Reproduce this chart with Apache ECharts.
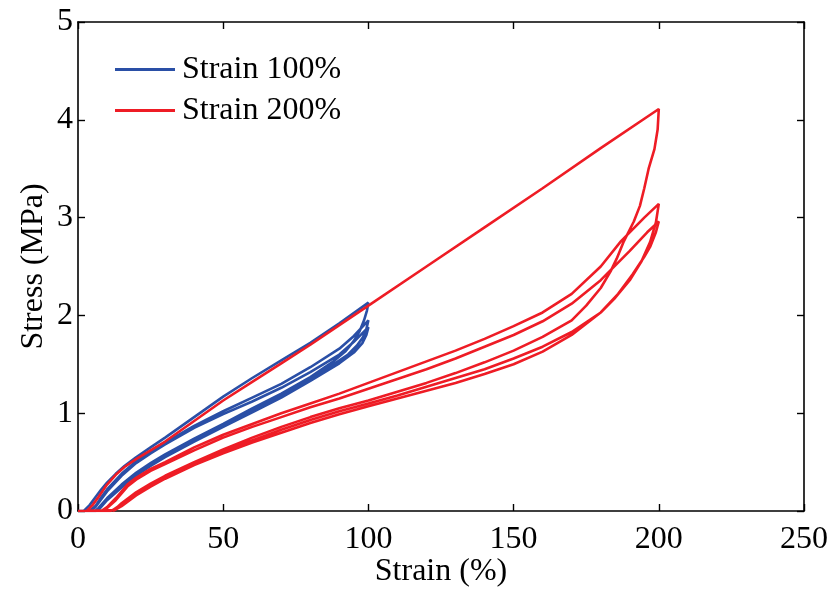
<!DOCTYPE html>
<html>
<head>
<meta charset="utf-8">
<script src="https://cdn.jsdelivr.net/npm/echarts@6/dist/echarts.min.js"></script>
<style>
  html, body { margin: 0; padding: 0; background: #fff; }
  #chart { width: 832px; height: 589px; }
</style>
</head>
<body>
<div id="chart"></div>
<script>
// Cyclic tensile test: stress (MPa) against strain (%), [strain, stress] pairs.
// 100% strain: three load/unload cycles
const blueLoad1 = [[0,0],[2,0],[4,0.06],[6,0.14],[8,0.22],[10,0.29],[13,0.38],[16,0.46],[20,0.55],[25,0.65],[30,0.75],[40,0.96],[50,1.17],[60,1.36],[70,1.54],[80,1.72],[90,1.92],[100,2.13]];
const blueUnload1 = [[100,2.13],[99.5,2.05],[98.5,1.95],[97,1.84],[95,1.74],[92,1.63],[88,1.53],[80,1.37],[70,1.2],[60,1.05],[50,0.89],[40,0.74],[30,0.58],[25,0.49],[20,0.39],[15,0.27],[10,0.13],[7,0.03],[6,0],[0,0]];
const blueLoad2 = [[0,0],[4,0],[6,0.05],[8,0.14],[10,0.22],[15,0.38],[20,0.51],[25,0.61],[30,0.7],[40,0.87],[50,1.02],[60,1.16],[70,1.3],[80,1.47],[90,1.66],[95,1.79],[100,1.95]];
const blueUnload2 = [[100,1.95],[99.3,1.86],[98,1.77],[96,1.69],[93,1.6],[88,1.5],[80,1.35],[70,1.18],[60,1.03],[50,0.87],[40,0.72],[30,0.56],[25,0.47],[20,0.37],[15,0.25],[10,0.12],[7,0.02],[6,0]];
const blueLoad3 = [[4,0],[6,0.04],[8,0.12],[10,0.2],[15,0.36],[20,0.49],[25,0.59],[30,0.68],[40,0.85],[50,0.99],[60,1.12],[70,1.26],[80,1.42],[90,1.6],[95,1.73],[100,1.88]];
const blueUnload3 = [[100,1.88],[99.3,1.8],[98,1.72],[95,1.62],[90,1.51],[80,1.33],[70,1.16],[60,1.01],[50,0.86],[40,0.71],[30,0.55],[25,0.46],[20,0.36],[15,0.24],[10,0.11],[7,0.01],[6,0]];

// 200% strain: three load/unload cycles
const redLoad1 = [[0,0],[3,0],[5,0.06],[7,0.14],[10,0.27],[13,0.37],[16,0.45],[20,0.53],[25,0.62],[30,0.71],[40,0.92],[50,1.13],[60,1.32],[70,1.51],[80,1.7],[90,1.9],[100,2.1],[120,2.5],[140,2.9],[160,3.3],[180,3.71],[200,4.11]];
const redUnload1 = [[200,4.11],[199.6,3.9],[198.5,3.7],[196.5,3.5],[195,3.3],[193.5,3.12],[191.4,2.96],[188,2.76],[185.5,2.58],[183.4,2.45],[180,2.28],[175,2.1],[170,1.95],[160,1.78],[150,1.64],[140,1.52],[130,1.41],[120,1.31],[110,1.22],[100,1.13],[90,1.05],[80,0.96],[70,0.86],[60,0.75],[50,0.63],[40,0.5],[30,0.36],[25,0.28],[20,0.19],[15,0.08],[12.5,0.01],[12,0],[0,0]];
const redLoad2 = [[0,0],[8,0],[10,0.04],[13,0.13],[17,0.27],[20,0.34],[25,0.43],[30,0.5],[40,0.65],[50,0.78],[60,0.89],[70,1.0],[80,1.1],[90,1.2],[100,1.31],[110,1.42],[120,1.53],[130,1.64],[140,1.76],[150,1.89],[160,2.03],[170,2.22],[180,2.5],[187,2.76],[195,3.0],[200,3.14]];
const redUnload2 = [[200,3.14],[199,2.95],[197,2.75],[194,2.55],[190,2.36],[185,2.18],[180,2.03],[170,1.83],[160,1.68],[150,1.56],[140,1.45],[130,1.36],[120,1.27],[110,1.18],[100,1.1],[90,1.02],[80,0.93],[70,0.83],[60,0.72],[50,0.61],[40,0.49],[30,0.35],[25,0.27],[20,0.18],[15,0.07],[12,0.01],[11,0],[8,0]];
const redLoad3 = [[8,0],[10,0.03],[13,0.11],[17,0.25],[20,0.32],[25,0.41],[30,0.48],[40,0.62],[50,0.75],[60,0.86],[70,0.96],[80,1.06],[90,1.15],[100,1.25],[110,1.35],[120,1.45],[130,1.56],[140,1.68],[150,1.8],[160,1.94],[170,2.12],[180,2.36],[190,2.66],[196,2.85],[200,2.96]];
const redUnload3 = [[200,2.96],[199,2.85],[197,2.7],[195,2.6],[191,2.42],[186,2.22],[180,2.03],[170,1.8],[160,1.63],[150,1.5],[140,1.4],[130,1.31],[120,1.23],[110,1.15],[100,1.07],[90,0.99],[80,0.9],[70,0.8],[60,0.7],[50,0.59],[40,0.47],[30,0.33],[25,0.25],[20,0.16],[15,0.05],[12,0]];

const seriesNames = ['Strain 100%', 'Strain 200%'];
const xTicks = { min: 0, max: 250, interval: 50 };
const yTicks = { min: 0, max: 5, interval: 1 };

const blueColor = '#2a4fa6';
const redColor = '#ee1c25';
const serif = "'Liberation Serif', 'Times New Roman', serif";

const bluePath = [].concat(blueLoad1, blueUnload1, blueLoad2, blueUnload2, blueLoad3, blueUnload3);
const redPath = [].concat(redLoad1, redUnload1, redLoad2, redUnload2, redLoad3, redUnload3);

const axisLine = { show: true, onZero: false, lineStyle: { color: '#000', width: 1.6 } };
const innerTick = { show: true, inside: true, length: 7, lineStyle: { color: '#000', width: 1.4 } };

const chart = echarts.init(document.getElementById('chart'), null, { renderer: 'canvas' });
chart.setOption({
  animation: false,
  backgroundColor: '#fff',
  grid: { left: 78, right: 28, top: 22, bottom: 78, containLabel: false, outerBoundsMode: 'none' },
  legend: {
    data: seriesNames,
    orient: 'vertical',
    left: 115,
    top: 49,
    padding: 0,
    itemWidth: 60,
    itemHeight: 16,
    itemGap: 0,
    icon: 'path://M0,7 L60,7 L60,10 L0,10 Z',
    textStyle: { fontFamily: serif, fontSize: 32, color: '#000', lineHeight: 41, padding: [0, 0, 0, 2] }
  },
  xAxis: [
    {
      type: 'value', min: xTicks.min, max: xTicks.max, interval: xTicks.interval,
      name: 'Strain (%)', nameLocation: 'middle', nameGap: 45, nameMoveOverlap: false,
      nameTextStyle: { fontFamily: serif, fontSize: 32, color: '#000' },
      axisLine: axisLine, axisTick: innerTick, splitLine: { show: false },
      axisLabel: { fontFamily: serif, fontSize: 32, color: '#000', margin: 13 }
    },
    {
      type: 'value', position: 'top', show: true, min: xTicks.min, max: xTicks.max, interval: xTicks.interval,
      axisLine: axisLine, axisTick: innerTick, splitLine: { show: false },
      axisLabel: { show: false }
    }
  ],
  yAxis: [
    {
      type: 'value', min: yTicks.min, max: yTicks.max, interval: yTicks.interval,
      name: 'Stress (MPa)', nameLocation: 'middle', nameGap: 28, nameRotate: 90, nameMoveOverlap: false,
      nameTextStyle: { fontFamily: serif, fontSize: 32, color: '#000' },
      axisLine: axisLine, axisTick: innerTick, splitLine: { show: false },
      axisLabel: { fontFamily: serif, fontSize: 32, color: '#000', margin: 5 }
    },
    {
      type: 'value', position: 'right', show: true, min: yTicks.min, max: yTicks.max, interval: yTicks.interval,
      axisLine: axisLine, axisTick: innerTick, splitLine: { show: false },
      axisLabel: { show: false }
    }
  ],
  series: [
    {
      name: seriesNames[0], type: 'line', data: bluePath,
      symbol: 'none', smooth: false, color: blueColor,
      lineStyle: { color: blueColor, width: 2.6 }
    },
    {
      name: seriesNames[1], type: 'line', data: redPath,
      symbol: 'none', smooth: false, color: redColor,
      lineStyle: { color: redColor, width: 2.6 }
    }
  ]
});
</script>
</body>
</html>
